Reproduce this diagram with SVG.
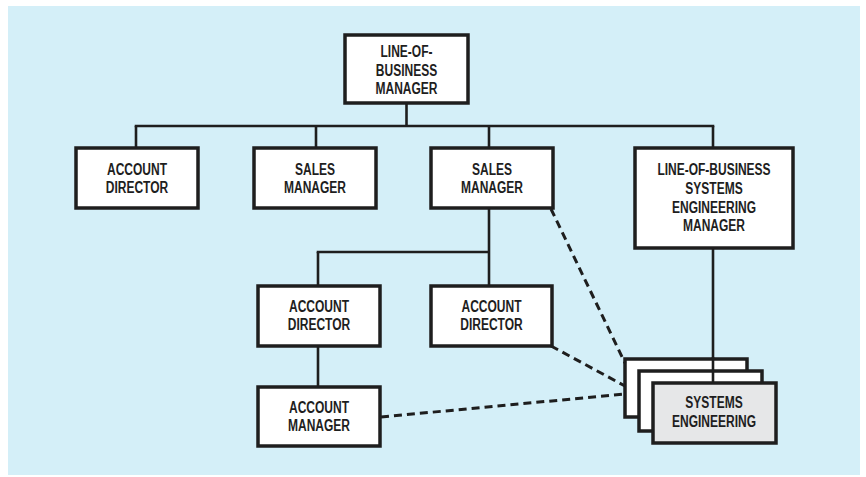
<svg xmlns="http://www.w3.org/2000/svg" width="866" height="477" viewBox="0 0 866 477">
<style>
.box{fill:#ffffff;stroke:#1e1e1e;stroke-width:3.5}
.box2{fill:#e6e7e8;stroke:#1e1e1e;stroke-width:3.5}
.t{font-family:"Liberation Sans",Arial,sans-serif;font-size:16px;font-weight:bold;fill:#1e1e1e;text-anchor:middle}
.c{fill:none;stroke:#1e1e1e;stroke-width:2.6}
.d{fill:none;stroke:#1e1e1e;stroke-width:3;stroke-dasharray:8 5}
</style>
<rect x="0" y="0" width="866" height="477" fill="#ffffff"/>
<rect x="8" y="6" width="852" height="469" fill="#d4eff8"/>
<g id="lob-manager">
<rect class="box" x="345" y="35" width="123" height="68"/>
<g transform="translate(406.5 0) scale(0.75 1)"><text class="t" x="0" y="57.5">LINE-OF-</text><text class="t" x="0" y="76">BUSINESS</text><text class="t" x="0" y="94">MANAGER</text></g>
</g>
<g id="account-director-1">
<rect class="box" x="76" y="148" width="122" height="60"/>
<g transform="translate(137 0) scale(0.75 1)"><text class="t" x="0" y="175">ACCOUNT</text><text class="t" x="0" y="192.8">DIRECTOR</text></g>
</g>
<g id="sales-manager-1">
<rect class="box" x="254" y="148" width="122" height="60"/>
<g transform="translate(315 0) scale(0.75 1)"><text class="t" x="0" y="175">SALES</text><text class="t" x="0" y="192.8">MANAGER</text></g>
</g>
<g id="sales-manager-2">
<rect class="box" x="431" y="148" width="122" height="60"/>
<g transform="translate(492 0) scale(0.75 1)"><text class="t" x="0" y="175">SALES</text><text class="t" x="0" y="193.2">MANAGER</text></g>
</g>
<g id="lob-se-manager">
<rect class="box" x="635" y="148" width="158" height="100"/>
<g transform="translate(714 0) scale(0.75 1)"><text class="t" x="0" y="175.2">LINE-OF-BUSINESS</text><text class="t" x="0" y="193.9">SYSTEMS</text><text class="t" x="0" y="212.6">ENGINEERING</text><text class="t" x="0" y="231.3">MANAGER</text></g>
</g>
<g id="account-director-2">
<rect class="box" x="258" y="286" width="122" height="60"/>
<g transform="translate(319 0) scale(0.75 1)"><text class="t" x="0" y="311.7">ACCOUNT</text><text class="t" x="0" y="330.3">DIRECTOR</text></g>
</g>
<g id="account-director-3">
<rect class="box" x="431" y="286" width="121" height="60"/>
<g transform="translate(491.5 0) scale(0.75 1)"><text class="t" x="0" y="311.7">ACCOUNT</text><text class="t" x="0" y="330.3">DIRECTOR</text></g>
</g>
<g id="account-manager">
<rect class="box" x="258" y="387" width="122" height="59"/>
<g transform="translate(319 0) scale(0.75 1)"><text class="t" x="0" y="413.2">ACCOUNT</text><text class="t" x="0" y="431">MANAGER</text></g>
</g>
<g id="systems-engineering">
<rect class="box" x="625" y="359" width="122" height="58"/>
<rect class="box" x="639" y="371" width="123" height="60"/>
<line class="c" x1="713" y1="357" x2="713" y2="383"/>
<rect class="box2" x="653" y="383" width="123" height="60"/>
<g transform="translate(714 0) scale(0.75 1)"><text class="t" x="0" y="408.5">SYSTEMS</text><text class="t" x="0" y="427.5">ENGINEERING</text></g>
</g>
<g id="connectors">
<line class="c" x1="406.5" y1="103" x2="406.5" y2="126"/>
<line class="c" x1="134.7" y1="126" x2="714.3" y2="126"/>
<line class="c" x1="136" y1="126" x2="136" y2="148"/>
<line class="c" x1="316" y1="126" x2="316" y2="148"/>
<line class="c" x1="489" y1="126" x2="489" y2="148"/>
<line class="c" x1="713" y1="126" x2="713" y2="148"/>
<line class="c" x1="489" y1="208" x2="489" y2="286"/>
<line class="c" x1="316.7" y1="252" x2="490" y2="252"/>
<line class="c" x1="318" y1="252" x2="318" y2="286"/>
<line class="c" x1="318" y1="346" x2="318" y2="387"/>
<line class="c" x1="713" y1="248" x2="713" y2="359"/>
<line class="d" x1="551" y1="209" x2="625" y2="363"/>
<line class="d" x1="551" y1="346" x2="625" y2="386"/>
<line class="d" x1="381" y1="417" x2="625" y2="394"/>
</g>
</svg>
